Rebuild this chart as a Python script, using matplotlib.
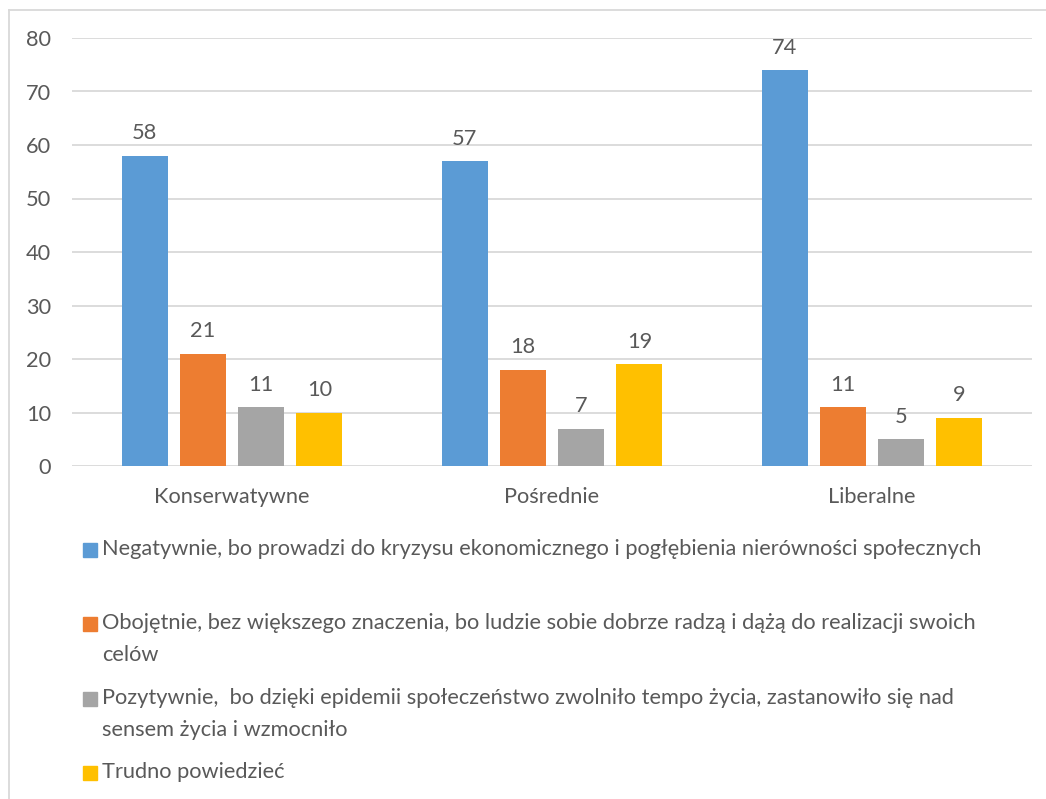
import matplotlib.pyplot as plt
from matplotlib.lines import Line2D
from matplotlib.patches import Rectangle
import numpy as np

categories = ["Konserwatywne", "Pośrednie", "Liberalne"]
series_labels = [
    "Negatywnie, bo prowadzi do kryzysu ekonomicznego i pogłębienia nierówności społecznych",
    "Obojętnie, bez większego znaczenia, bo ludzie sobie dobrze radzą i dążą do realizacji swoich\ncelów",
    "Pozytywnie,  bo dzięki epidemii społeczeństwo zwolniło tempo życia, zastanowiło się nad\nsensem życia i wzmocniło",
    "Trudno powiedzieć",
]
negatywnie = [58, 57, 74]
obojetnie = [21, 18, 11]
pozytywnie = [11, 7, 5]
trudno = [10, 19, 9]
colors = ["#5B9BD5", "#ED7D31", "#A5A5A5", "#FFC000"]

plt.rcParams['font.family'] = ['Lato', 'DejaVu Sans']
txt = "#595959"
fs = 15.7
W, H = 1046, 799
fig = plt.figure(figsize=(W / 100, H / 100), dpi=100)
ax = fig.add_axes([72 / W, 1 - 466 / H, (1032 - 72) / W, (466 - 38) / H])

x = np.arange(len(categories))
width = 0.144
step = 0.182
all_series = [negatywnie, obojetnie, pozytywnie, trudno]
for i, vals in enumerate(all_series):
    off = (i - 1.5) * step
    bars = ax.bar(x + off, vals, width, color=colors[i], zorder=3)
    for b, v in zip(bars, vals):
        ax.annotate(str(v), (b.get_x() + b.get_width() / 2, v), xytext=(0, 9),
                    textcoords="offset points", ha="center", va="bottom",
                    fontsize=fs, color=txt)

ax.set_xlim(-0.5, 2.5)
ax.set_ylim(0, 80)
ax.set_yticks(range(0, 81, 10))
ax.set_xticks(x)
ax.set_xticklabels(categories)
ax.grid(axis="y", color="#D9D9D9", linewidth=1.3, zorder=0)
for s in ax.spines.values():
    s.set_visible(False)
ax.tick_params(length=0, labelsize=fs, colors=txt)
ax.tick_params(axis="y", pad=15)
ax.tick_params(axis="x", pad=15)

# legend below the plot, Excel style
legend_y = [550, 624, 699, 773]
for lab, col, yy in zip(series_labels, colors, legend_y):
    fig.patches.append(Rectangle((83 / W, 1 - (yy + 7) / H), 14 / W, 14 / H,
                                 transform=fig.transFigure, color=col))
    fig.text(102 / W, 1 - (yy - 11) / H, lab, fontsize=fs, color=txt,
             va="top", ha="left", linespacing=1.72)

# chart frame
fig.add_artist(Line2D([9 / W, 9 / W], [0, 1 - 10 / H], color="#D9D9D9", lw=1.3))
fig.add_artist(Line2D([9 / W, 1], [1 - 10 / H, 1 - 10 / H], color="#D9D9D9", lw=1.3))

fig.savefig("out.png", dpi=100)
